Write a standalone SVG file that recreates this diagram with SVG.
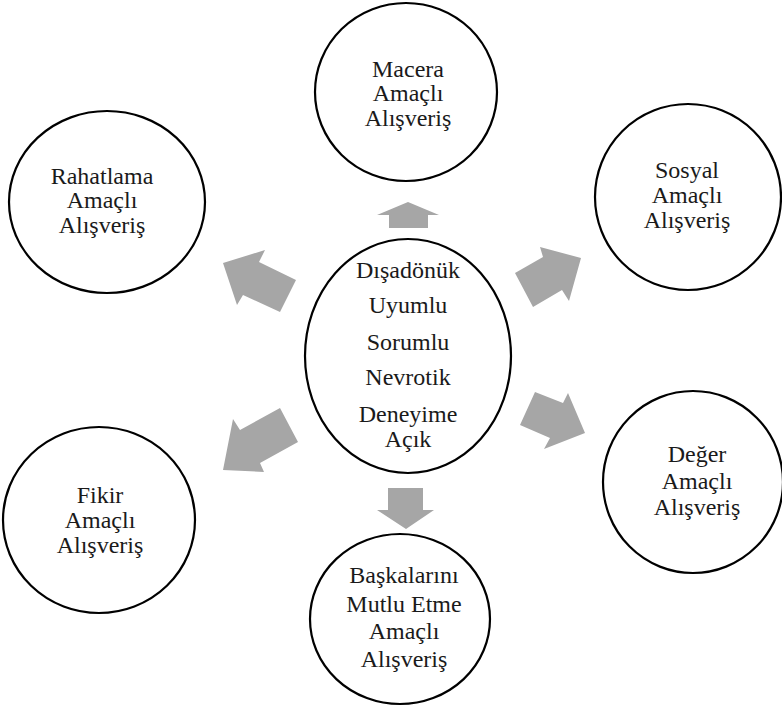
<svg xmlns="http://www.w3.org/2000/svg" width="782" height="711" viewBox="0 0 782 711">
<style>
.n{fill:#fff;stroke:#000;stroke-width:2.2}
.t{font-family:"Liberation Serif","Times New Roman",serif;font-size:24px;fill:#1a1a1a;text-anchor:middle}
.a{fill:#a6a6a6;stroke:none}
</style>
<rect width="782" height="711" fill="#fff"/>
<g id="connectors">
<polygon class="a" points="408,202 439,215 428,215 428,228 389,228 389,215 377,215"/>
<polygon class="a" points="388,488 423,488 423,510 434,510 406,529 377,510 388,510"/>
<polygon class="a" points="223,263 265,250 259,262 296,280 280,312 243,295 237,305"/>
<polygon class="a" points="581,258 569,301 562,290 533,307 515,273 543,257 540,247"/>
<polygon class="a" points="223,470 233,419 240,430 280,408 298,442 260,463 264,472"/>
<polygon class="a" points="585,433 544,449 550,438 520,425 535,392 563,403 568,393"/>
</g>
<g id="center">
<ellipse class="n" cx="408" cy="356" rx="103" ry="117"/>
<text class="t" x="408" y="278">Dışadönük</text>
<text class="t" x="408" y="313">Uyumlu</text>
<text class="t" x="408" y="350">Sorumlu</text>
<text class="t" x="408" y="385">Nevrotik</text>
<text class="t" x="408" y="422">Deneyime</text>
<text class="t" x="408" y="447">Açık</text>
</g>
<g id="macera">
<ellipse class="n" cx="406" cy="92" rx="91" ry="89"/>
<text class="t" x="408" y="77">Macera</text>
<text class="t" x="408" y="101">Amaçlı</text>
<text class="t" x="408" y="126">Alışveriş</text>
</g>
<g id="rahatlama">
<ellipse class="n" cx="107" cy="202" rx="98" ry="91"/>
<text class="t" x="102" y="184">Rahatlama</text>
<text class="t" x="102" y="208">Amaçlı</text>
<text class="t" x="102" y="233">Alışveriş</text>
</g>
<g id="sosyal">
<ellipse class="n" cx="688" cy="197" rx="93" ry="93"/>
<text class="t" x="687" y="178">Sosyal</text>
<text class="t" x="687" y="203">Amaçlı</text>
<text class="t" x="687" y="228">Alışveriş</text>
</g>
<g id="deger">
<ellipse class="n" cx="693" cy="482" rx="90" ry="91"/>
<text class="t" x="697" y="462">Değer</text>
<text class="t" x="697" y="489">Amaçlı</text>
<text class="t" x="697" y="515">Alışveriş</text>
</g>
<g id="fikir">
<ellipse class="n" cx="99" cy="520" rx="96" ry="93"/>
<text class="t" x="100" y="503">Fikir</text>
<text class="t" x="100" y="528">Amaçlı</text>
<text class="t" x="100" y="553">Alışveriş</text>
</g>
<g id="baskalarini">
<ellipse class="n" cx="400" cy="619" rx="90" ry="85"/>
<text class="t" x="404" y="583">Başkalarını</text>
<text class="t" x="404" y="612">Mutlu Etme</text>
<text class="t" x="404" y="639">Amaçlı</text>
<text class="t" x="404" y="667">Alışveriş</text>
</g>
</svg>
